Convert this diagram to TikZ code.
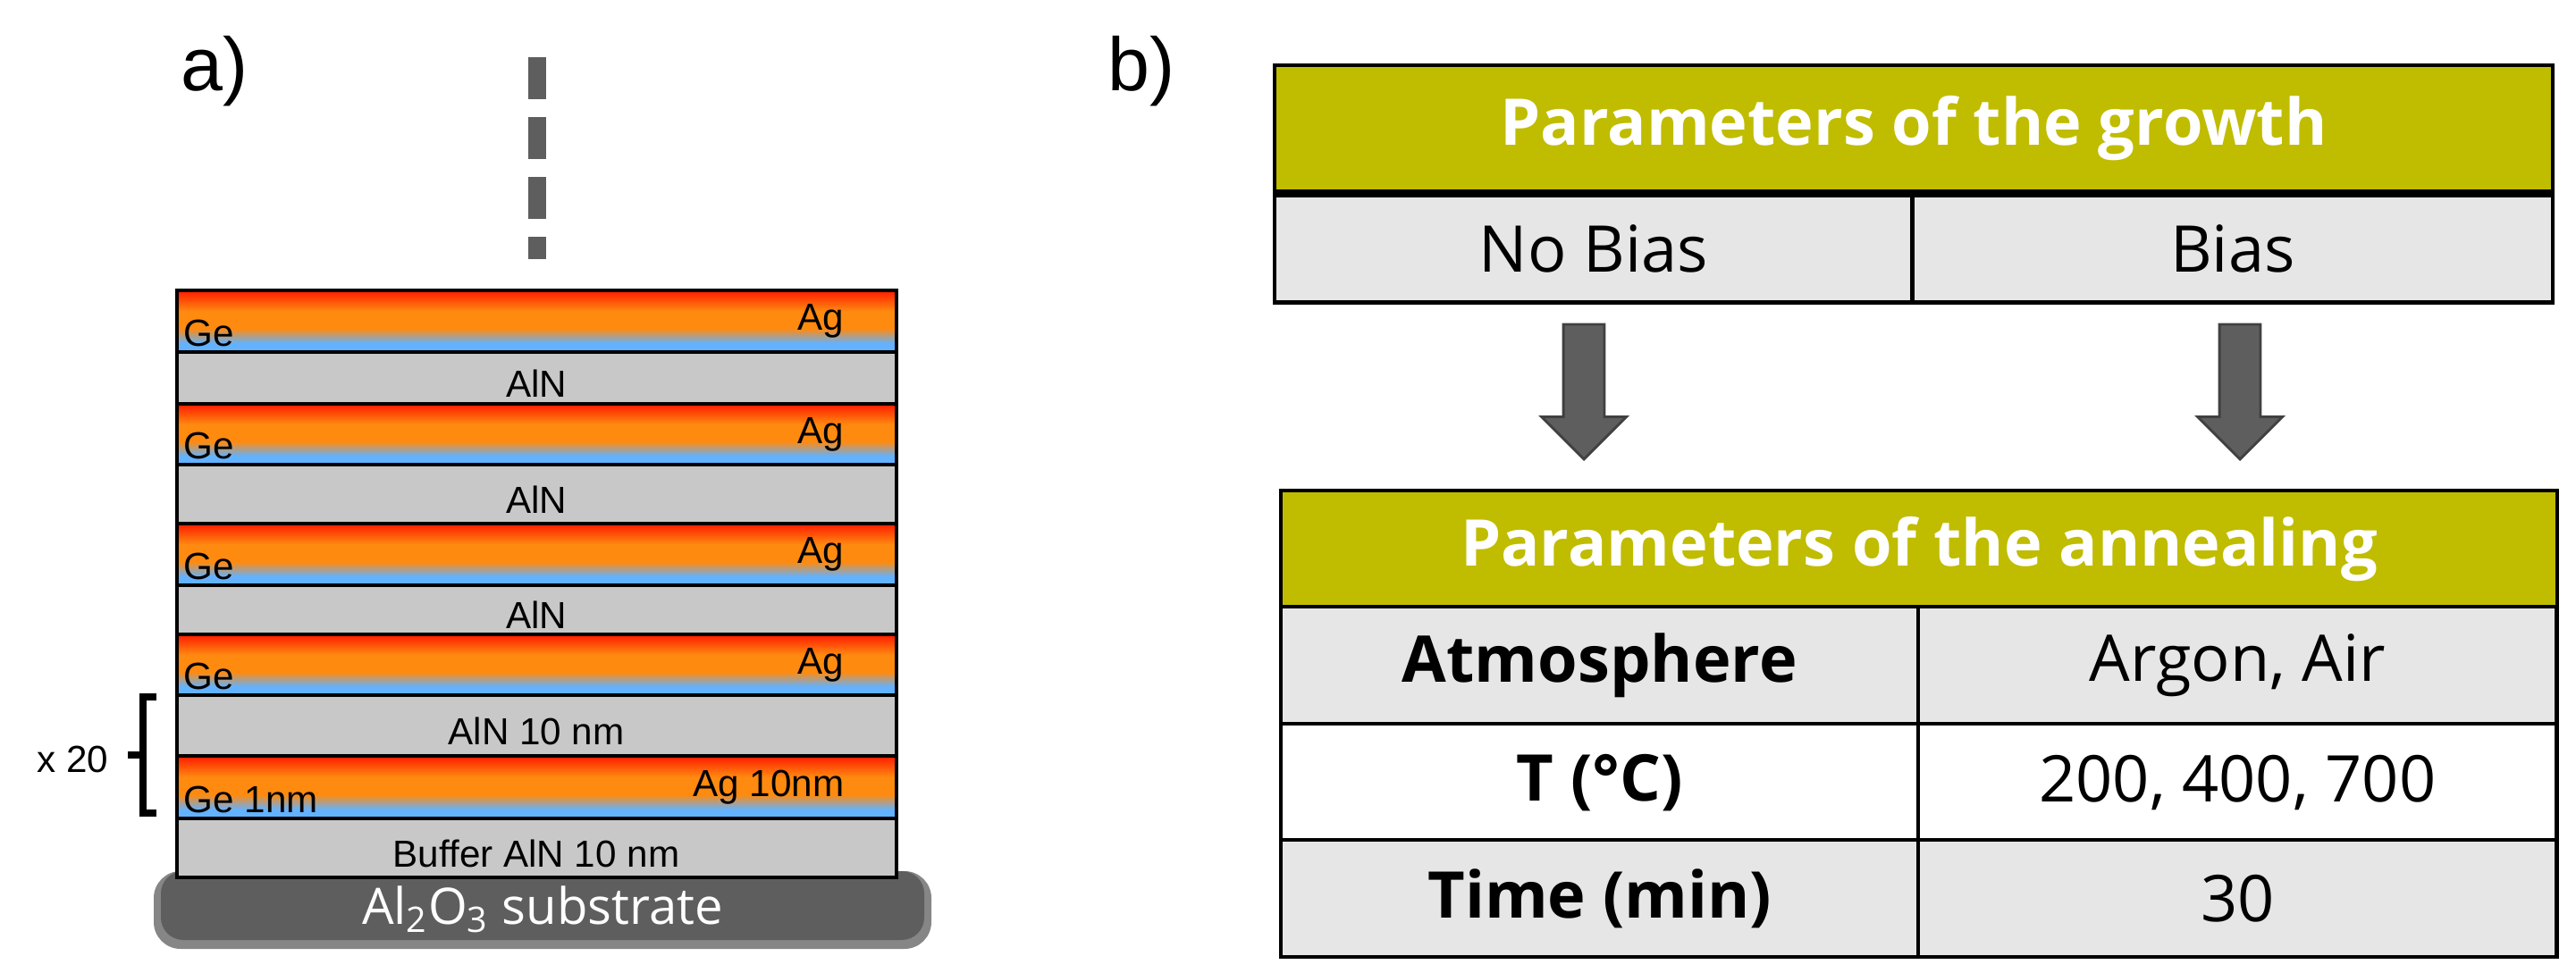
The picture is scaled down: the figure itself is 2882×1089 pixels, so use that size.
\documentclass[tikz,border=0pt]{standalone}
\usepackage{fontspec}
\setmainfont{Open Sans}
\newfontfamily\arial{Liberation Sans}
\usetikzlibrary{positioning, shapes.arrows}

\definecolor{olive}{HTML}{C0BC00}
\definecolor{rowgrey}{HTML}{E6E6E6}
\definecolor{alngrey}{HTML}{C8C8C8}
\definecolor{subgrey}{HTML}{5E5E5E}
\definecolor{lblue}{HTML}{62B2FF}
\definecolor{orng}{HTML}{FF8A10}
\definecolor{lred}{HTML}{FF1A00}
\pgfdeclareverticalshading{gelayer}{100bp}{color(0bp)=(lblue); color(25bp)=(lblue); color(32bp)=(lblue); color(44bp)=(orng); color(58bp)=(orng); color(75bp)=(lred); color(100bp)=(lred)}

\begin{document}
\begin{tikzpicture} [x=0.01cm, y=-0.01cm, line width=1.2pt,
    gelab/.style={font=\arial\fontsize{12}{14}\selectfont, inner sep=1pt},
    cell/.style={draw, fill=rowgrey, inner sep=0pt, font=\fontsize{20.5}{24}\selectfont},
    head/.style={draw, fill=olive, text=white, inner sep=0pt, font=\bfseries\fontsize{20.5}{24}\selectfont},
    downarrow/.style={single arrow, draw=black!75, fill=subgrey, shape border rotate=270, minimum width=0.92cm, single arrow head extend=0.245cm, minimum height=1.51cm, inner xsep=0.215cm, inner ysep=0pt, line width=0.8pt}]

\useasboundingbox (0,0) rectangle (2882,1089);

% a) layer stack
\node[font=\arial\fontsize{24}{28}\selectfont] (label_a) at (240,80) {a)};
\draw[line width=0.2cm, subgrey, dash pattern=on 0.47cm off 0.2cm] (601,64) -- (601,290);

\foreach \top/\bot/\al/\gl [count=\i] in {325/394/Ag/Ge, 452/520/Ag/Ge, 586/655/Ag/Ge, 710/778/Ag/Ge, 846/916/Ag 10nm/Ge 1nm} {
  \path[draw, shading=gelayer] (198,\top) rectangle (1003,\bot);
  \node[gelab, anchor=south west] (ge\i) at (200,\bot) {\gl};
  \node[gelab, anchor=north east] (ag\i) at (950,\top+10) {\al};
}
\foreach \top/\bot/\txt [count=\i] in {394/452/AlN, 520/586/AlN, 655/710/AlN, 778/846/AlN 10 nm} {
  \draw[fill=alngrey] (198,\top) rectangle (1003,\bot);
  \node[gelab] (aln\i) at (600,\top/2+\bot/2+6) {\txt};
}
\fill[subgrey!75, rounded corners=0.3cm] (172,975) rectangle (1042,1062);
\fill[subgrey, rounded corners=0.25cm] (180,975) rectangle (1034,1052);
\draw[fill=alngrey] (198,916) rectangle (1003,982);
\node[gelab] (aln5) at (600,955) {Buffer AlN 10 nm};
\node[text=white, font=\fontsize{16}{19}\selectfont] (substrate) at (607,1018) {Al\textsubscript{2}O\textsubscript{3} substrate};

\draw[line width=2pt] (175,780) -- (160,780) -- (160,910) -- (175,910)
  (160,845) -- (143,845);
\node[font=\arial\fontsize{12}{14}\selectfont, anchor=east] (x20) at (135,850) {x 20};

% b) parameter tables
\node[font=\arial\fontsize{24}{28}\selectfont] (label_b) at (1277,80) {b)};
\node[head, minimum width=14.29cm, minimum height=1.41cm, anchor=north west] (growth) at (1424,71) {Parameters of the growth};
\node[cell, minimum width=7.13cm, minimum height=1.2cm, anchor=north west] (nobias) at (growth.south west) {No Bias};
\node[cell, minimum width=7.16cm, minimum height=1.2cm, anchor=north east] (bias) at (growth.south east) {Bias};

\node[downarrow] (arr1) at (1772,427) {};
\node[downarrow] (arr2) at (2506,427) {};

\node[head, minimum width=14.27cm, minimum height=1.3cm, anchor=north west] (anneal) at (1431,547) {Parameters of the annealing};
\foreach \k/\v/\y/\c in {Atmosphere/{Argon, Air}/677/rowgrey, T (°C)/{200, 400, 700}/808/white, Time (min)/30/938/rowgrey} {
  \node[cell, fill=\c, minimum width=7.13cm, minimum height=1.31cm, anchor=north west, font=\bfseries\fontsize{20.5}{24}\selectfont] (key\y) at (1431,\y) {\k};
  \node[cell, fill=\c, minimum width=7.14cm, minimum height=1.31cm, anchor=north west] (val\y) at (2144,\y) {\v};
}

\end{tikzpicture}
\end{document}
